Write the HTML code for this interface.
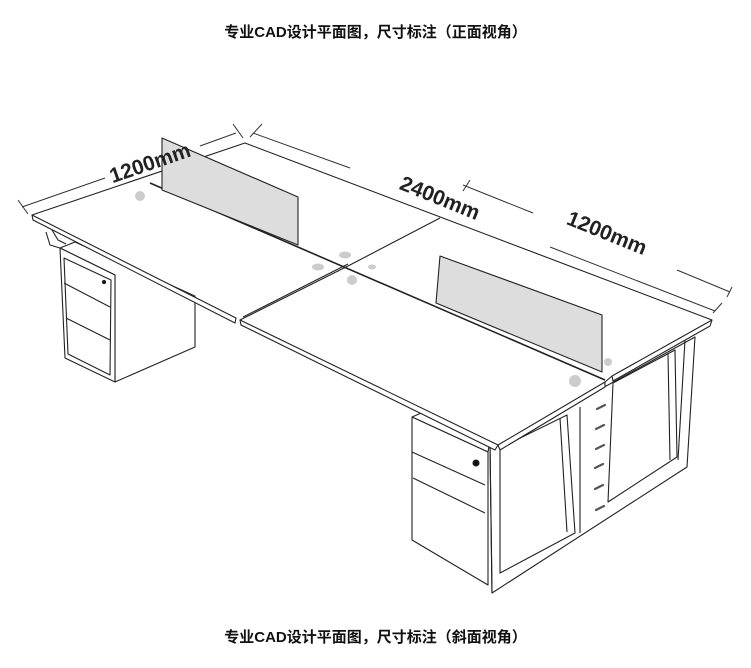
<!DOCTYPE html>
<html><head><meta charset="utf-8"><style>
html,body{margin:0;padding:0;background:#fff;width:751px;height:668px;overflow:hidden}
.t{position:absolute;left:0;width:751px;text-align:center;font-family:"Liberation Sans","Noto Sans CJK SC",sans-serif;font-weight:bold;font-size:15px;color:#111}
svg{position:absolute;left:0;top:0}
</style></head><body>
<div class="t" style="top:21px">专业CAD设计平面图，尺寸标注（正面视角）</div>
<div class="t" style="top:626px">专业CAD设计平面图，尺寸标注（斜面视角）</div>
<svg width="751" height="668" viewBox="0 0 751 668" fill="none" stroke="#222" stroke-width="1.1" stroke-linejoin="round">
<!-- dimension lines -->
<g stroke="#333" stroke-width="1">
<line x1="22" y1="207" x2="105" y2="178"/><line x1="18" y1="200" x2="28" y2="214"/>
<line x1="200" y1="146" x2="236" y2="133"/><line x1="233" y1="124" x2="243" y2="138"/>
<line x1="253" y1="133" x2="350" y2="168"/><line x1="250" y1="137" x2="262" y2="124"/>
<line x1="463" y1="185" x2="533" y2="213"/><line x1="463" y1="191" x2="470" y2="180"/>
<line x1="550" y1="247" x2="715" y2="311"/><line x1="713" y1="313" x2="722" y2="303"/>
<line x1="677" y1="270" x2="730" y2="292"/><line x1="727" y1="297" x2="732" y2="287"/>
</g>
<!-- under structure right -->
<polygon points="490,445 608,385 695,337 687,467 492,593" fill="#fff"/>
<line x1="490" y1="445" x2="492" y2="593"/>
<line x1="685" y1="340" x2="678" y2="460"/>
<polygon points="500,448 567,415 575,533 500,573"/>
<line x1="560" y1="418" x2="567" y2="532"/>
<polygon points="613,383 675,350 677,457 608,502"/>
<line x1="668" y1="354" x2="670" y2="460"/>
<line x1="580" y1="407" x2="580" y2="533"/>
<g stroke="#555" stroke-width="2.2" stroke-linecap="round">
<line x1="597" y1="409" x2="605" y2="405"/><line x1="596" y1="429" x2="604" y2="425"/>
<line x1="596" y1="449" x2="604" y2="445"/><line x1="595" y1="468" x2="603" y2="464"/>
<line x1="595" y1="489" x2="603" y2="485"/><line x1="596" y1="510" x2="604" y2="506"/>
</g>
<!-- right pedestal -->
<polygon points="412,417 426,411 490,440 488,452" fill="#fff"/>
<polygon points="412,417 488,452 488,585 412,540" fill="#fff"/>
<line x1="412" y1="452" x2="485" y2="485"/>
<line x1="413" y1="478" x2="485" y2="513"/>
<circle cx="476" cy="463" r="3" fill="#111"/>
<!-- left pedestal -->
<polygon points="60,248 75,242 195,296 195,347 115,382 115,275" fill="#fff"/>
<polygon points="60,248 115,275 115,382 65,358" fill="#fff"/>
<polygon points="64,258 111,280 110,375 68,354"/>
<line x1="64" y1="283" x2="110" y2="307"/>
<line x1="66" y1="318" x2="110" y2="340"/>
<circle cx="104" cy="282" r="1.6" fill="#111"/>
<path d="M46,232 L50,245 L60,248 M52,230 L58,240 L66,244"/>
<!-- tabletop -->
<polygon points="32,215 245,143 712,320 498,445" fill="#fff" stroke="none"/>
<path d="M32,215 L245,143 L712,320"/>
<path d="M32,215 L33,220 L235,323 L236,318 Z" fill="#fff"/>
<path d="M240,320 L241,325 L495,450 L498,445 Z" fill="#fff"/>
<path d="M498,445 L500,450 L605,387 L605,382 Z" fill="#fff"/>
<path d="M612,376 L613,381 L710,326 L712,320 Z" fill="#fff"/>
<line x1="605" y1="382" x2="612" y2="376"/>
<!-- seams -->
<line x1="150" y1="183" x2="605" y2="380" stroke-width="1.6"/>
<line x1="240" y1="320" x2="348" y2="266"/>
<line x1="243" y1="317" x2="348" y2="264"/>
<line x1="348" y1="266" x2="440" y2="218"/>
<!-- grommets -->
<g fill="#ccc" stroke="none">
<circle cx="140" cy="196" r="5"/>
<ellipse cx="345" cy="255" rx="6" ry="3.5"/>
<ellipse cx="318" cy="267" rx="6" ry="3.5"/>
<ellipse cx="372" cy="267" rx="4" ry="2.5"/>
<circle cx="352" cy="280" r="5"/>
<circle cx="575" cy="381" r="6"/>
<circle cx="608" cy="362" r="4"/>
</g>
<!-- panels -->
<polygon points="162,138 298,197 298,245 162,190" fill="#ddd"/>
<polygon points="440,256 602,315 602,372 436,303" fill="#ddd"/>
<g fill="#222" stroke="none" font-family="Liberation Sans,sans-serif" font-weight="bold" font-size="21">
<text x="150" y="170" text-anchor="middle" transform="rotate(-19 150 163)">1200mm</text>
<text x="440" y="205" text-anchor="middle" transform="rotate(22 440 198)">2400mm</text>
<text x="607" y="240" text-anchor="middle" transform="rotate(22 607 233)">1200mm</text>
</g>
</svg>
</body></html>
